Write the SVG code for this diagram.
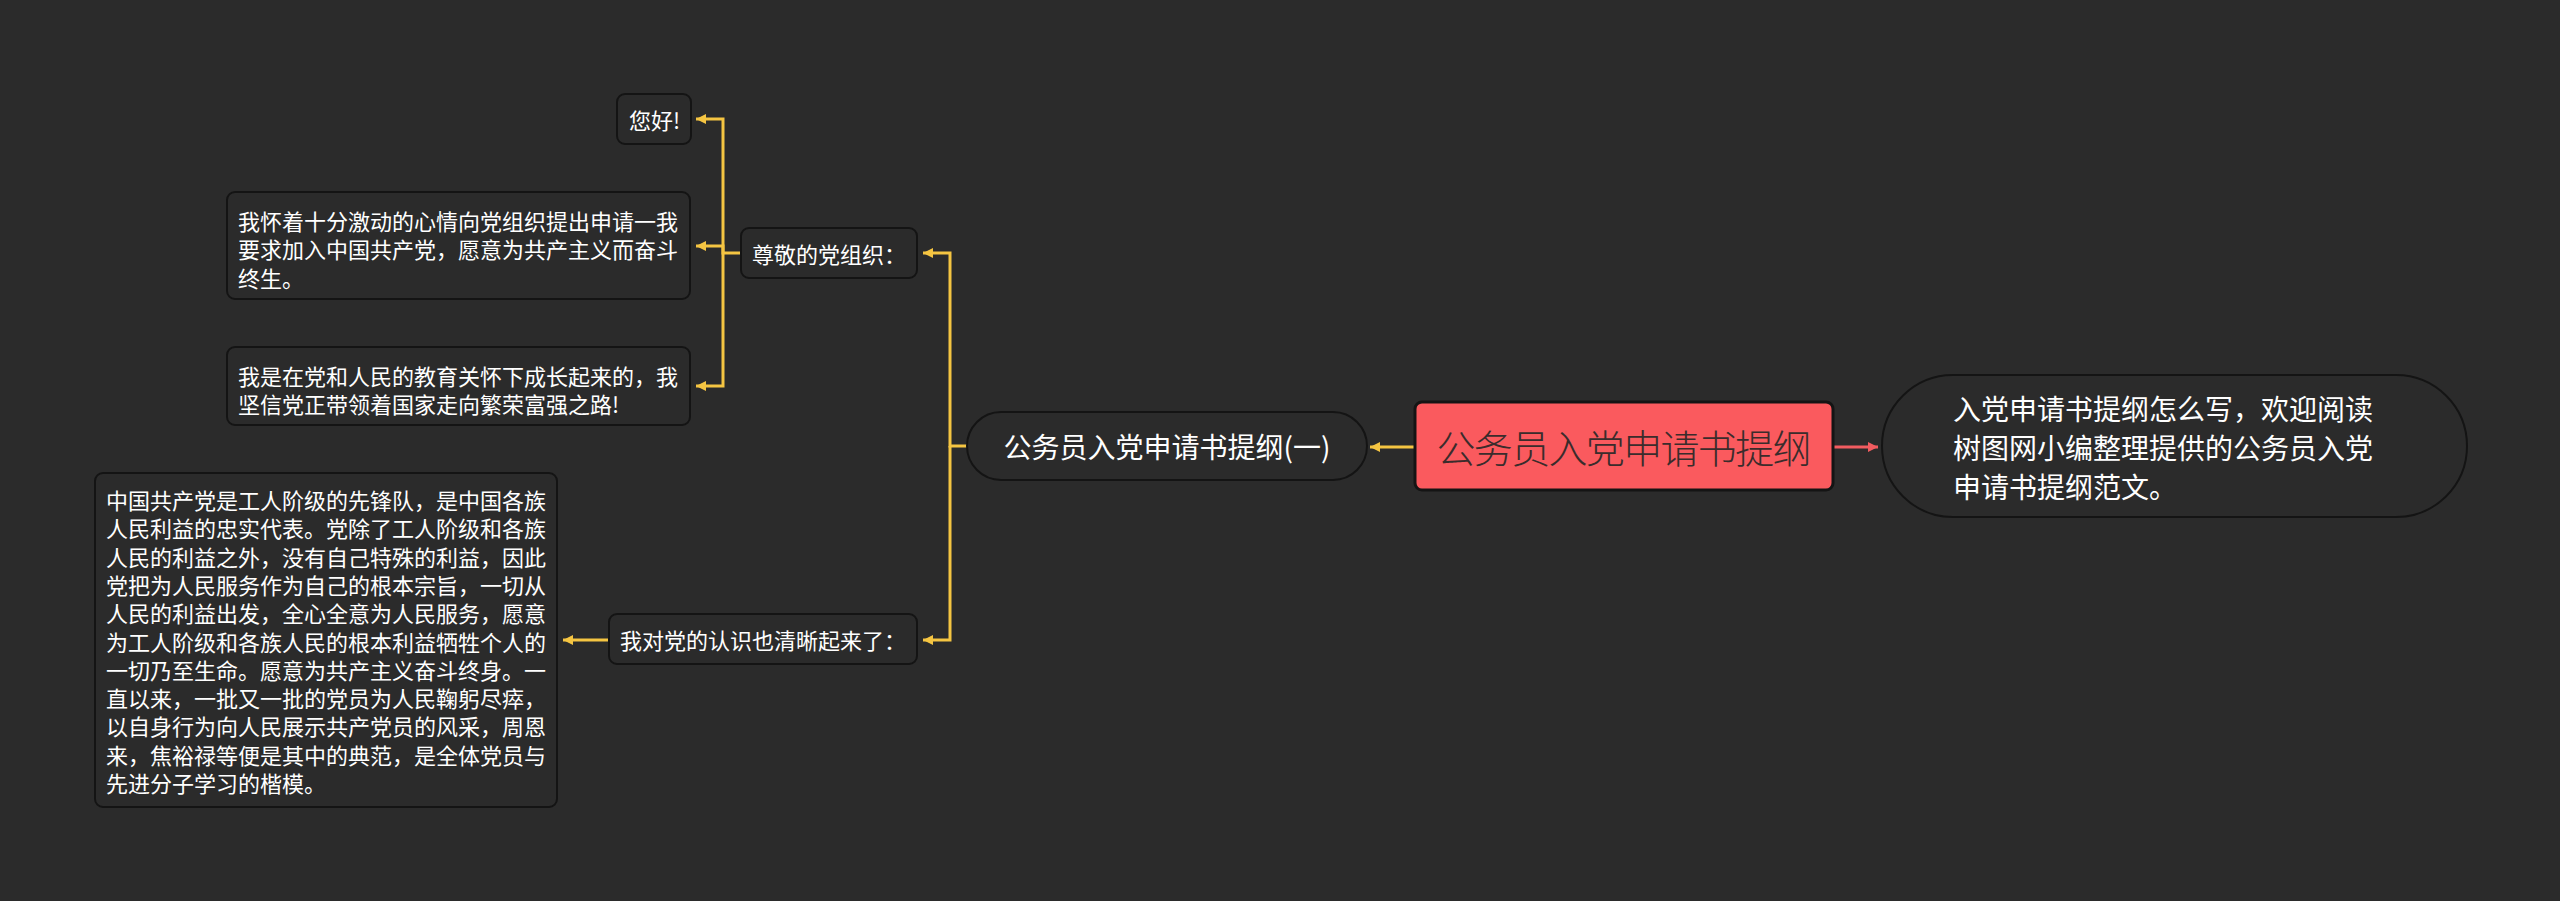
<svg xmlns="http://www.w3.org/2000/svg" width="2560" height="901" viewBox="0 0 2560 901">
<style>
.bg{fill:#2b2b2b}
.node{fill:#2b2b2b;stroke:#141414;stroke-width:2}
.t{font-family:"Noto Sans CJK SC","Noto Sans",sans-serif;fill:#ffffff;dominant-baseline:central}
.s{font-size:22px}
.m{font-size:28px}
.root{fill:#fa5a5e;stroke:#141414;stroke-width:3}
.rt{font-family:"Noto Sans CJK SC","Noto Sans",sans-serif;font-size:39px;font-weight:300;fill:#3a2c2c;dominant-baseline:central}
.y{fill:none;stroke:#f5c542;stroke-width:3}
.r{fill:none;stroke:#f25c60;stroke-width:3}
</style>
<defs>
<marker id="ay" markerUnits="userSpaceOnUse" markerWidth="10" markerHeight="10" refX="10" refY="5" orient="auto">
<path d="M0,0 L10,5 L0,10 z" fill="#f5c542"/>
</marker>
<marker id="ar" markerUnits="userSpaceOnUse" markerWidth="10" markerHeight="10" refX="10" refY="5" orient="auto">
<path d="M0,0 L10,5 L0,10 z" fill="#f25c60"/>
</marker>
</defs>
<rect class="bg" x="0" y="0" width="2560" height="901"/>
<g id="connectors">
<path class="y" d="M1415,447 H1370" marker-end="url(#ay)"/>
<path class="r" d="M1833,447 H1878" marker-end="url(#ar)"/>
<path class="y" d="M967,446 H950 V253 H923" marker-end="url(#ay)"/>
<path class="y" d="M950,446 V640 H923" marker-end="url(#ay)"/>
<path class="y" d="M741,253 H723 V119 H696" marker-end="url(#ay)"/>
<path class="y" d="M723,253 V246 H696" marker-end="url(#ay)"/>
<path class="y" d="M723,253 V386 H696" marker-end="url(#ay)"/>
<path class="y" d="M609,640 H563" marker-end="url(#ay)"/>
</g>
<g id="root">
<rect class="root" x="1415" y="402" width="418" height="88" rx="7"/>
<text class="rt" x="1624" y="446" text-anchor="middle" textLength="375" lengthAdjust="spacing">公务员入党申请书提纲</text>
</g>
<g id="summary">
<rect class="node" x="1882" y="375" width="585" height="142" rx="71" stroke-width="3"/>
<text class="t m" x="1953" y="408">入党申请书提纲怎么写，欢迎阅读</text>
<text class="t m" x="1953" y="447">树图网小编整理提供的公务员入党</text>
<text class="t m" x="1953" y="486">申请书提纲范文。</text>
</g>
<g id="branch1">
<rect class="node" x="967" y="412" width="400" height="68" rx="34" stroke-width="3"/>
<text class="t m" x="1167" y="446" text-anchor="middle">公务员入党申请书提纲(一)</text>
</g>
<g id="greeting">
<rect class="node" x="741" y="228" width="176" height="50" rx="8"/>
<text class="t s" x="752" y="253">尊敬的党组织：</text>
</g>
<g id="hello">
<rect class="node" x="617" y="94" width="74" height="50" rx="8"/>
<text class="t s" x="629" y="119">您好!</text>
</g>
<g id="apply">
<rect class="node" x="227" y="192" width="463" height="107" rx="8"/>
<text class="t s" x="238" y="219.5">我怀着十分激动的心情向党组织提出申请一我</text>
<text class="t s" x="238" y="248">要求加入中国共产党，愿意为共产主义而奋斗</text>
<text class="t s" x="238" y="276.5">终生。</text>
</g>
<g id="grow">
<rect class="node" x="227" y="347" width="463" height="78" rx="8"/>
<text class="t s" x="238" y="374.5">我是在党和人民的教育关怀下成长起来的，我</text>
<text class="t s" x="238" y="403">坚信党正带领着国家走向繁荣富强之路!</text>
</g>
<g id="understand">
<rect class="node" x="609" y="614" width="308" height="50" rx="8"/>
<text class="t s" x="620" y="639">我对党的认识也清晰起来了：</text>
</g>
<g id="detail">
<rect class="node" x="95" y="473" width="462" height="334" rx="8"/>
<text class="t s" x="106" y="499">中国共产党是工人阶级的先锋队，是中国各族</text>
<text class="t s" x="106" y="527.3">人民利益的忠实代表。党除了工人阶级和各族</text>
<text class="t s" x="106" y="555.6">人民的利益之外，没有自己特殊的利益，因此</text>
<text class="t s" x="106" y="583.9">党把为人民服务作为自己的根本宗旨，一切从</text>
<text class="t s" x="106" y="612.2">人民的利益出发，全心全意为人民服务，愿意</text>
<text class="t s" x="106" y="640.5">为工人阶级和各族人民的根本利益牺牲个人的</text>
<text class="t s" x="106" y="668.8">一切乃至生命。愿意为共产主义奋斗终身。一</text>
<text class="t s" x="106" y="697.1">直以来，一批又一批的党员为人民鞠躬尽瘁，</text>
<text class="t s" x="106" y="725.4">以自身行为向人民展示共产党员的风采，周恩</text>
<text class="t s" x="106" y="753.7">来，焦裕禄等便是其中的典范，是全体党员与</text>
<text class="t s" x="106" y="782">先进分子学习的楷模。</text>
</g>
</svg>
